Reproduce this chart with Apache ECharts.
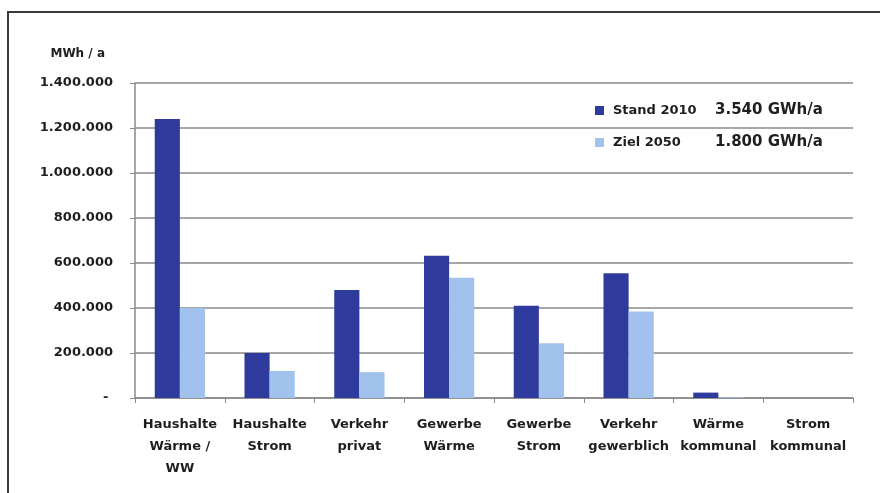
<!DOCTYPE html>
<html>
<head>
<meta charset="utf-8">
<script src="https://cdn.jsdelivr.net/npm/echarts@6/dist/echarts.min.js"></script>
<style>
  html, body { margin: 0; padding: 0; background: #fff; overflow: hidden; }
  #chart { position: absolute; left: 0; top: 0; width: 880px; height: 493px; }
</style>
</head>
<body>
<div id="chart"></div>
<script>
// Endenergieverbrauch nach Sektoren, MWh pro Jahr
const categories = [
  'Haushalte\nWärme /\nWW', 'Haushalte\nStrom', 'Verkehr\nprivat', 'Gewerbe\nWärme',
  'Gewerbe\nStrom', 'Verkehr\ngewerblich', 'Wärme\nkommunal', 'Strom\nkommunal'
];
const seriesNames = ['Stand 2010', 'Ziel 2050'];
const stand2010 = [1240000, 200000, 480000, 632000, 410000, 554000, 24000, 0];
const ziel2050 = [400000, 120000, 115000, 535000, 243000, 384000, 3000, 0];

const FONT = '"DejaVu Sans", "Open Sans", sans-serif';
const fmtDE = v => String(Math.round(v)).replace(/\B(?=(\d{3})+(?!\d))/g, '.');
const sum = arr => arr.reduce((a, b) => a + b, 0);
// Gesamtsumme in GWh/a für die Legende
const totals = [stand2010, ziel2050].map(a => fmtDE(sum(a) / 1000) + ' GWh/a');

const chart = echarts.init(document.getElementById('chart'), null, { renderer: 'canvas' });
chart.setOption({
  animation: false,
  textStyle: { fontFamily: FONT },
  // Rahmen oben und links
  graphic: [
    { type: 'line', shape: { x1: 7, y1: 12, x2: 880, y2: 12 }, style: { stroke: '#3a3a3a', lineWidth: 2 }, silent: true },
    { type: 'line', shape: { x1: 8, y1: 11, x2: 8, y2: 493 }, style: { stroke: '#3a3a3a', lineWidth: 2 }, silent: true }
  ],
  grid: { left: 135, right: 27, top: 83, bottom: 95, containLabel: false },
  legend: {
    orient: 'vertical',
    left: 590,
    top: 98,
    itemWidth: 9,
    itemHeight: 9,
    itemGap: 17,
    icon: 'rect',
    data: seriesNames,
    formatter: name => {
      const i = seriesNames.indexOf(name);
      return '{n|' + name + '}{v|' + totals[i] + '}';
    },
    textStyle: {
      rich: {
        n: { fontFamily: FONT, fontSize: 13, fontWeight: 'bold', color: '#1e1e1e', width: 102, padding: [0, 0, 0, 4] },
        v: { fontFamily: FONT, fontSize: 15, fontWeight: 'bold', color: '#1e1e1e' }
      }
    }
  },
  xAxis: {
    type: 'category',
    data: categories,
    axisLine: { lineStyle: { color: '#8a8a8a', width: 1.5 } },
    axisTick: { show: true, length: 5, lineStyle: { color: '#8a8a8a' } },
    axisLabel: {
      interval: 0,
      margin: 16,
      fontFamily: FONT,
      fontSize: 13,
      fontWeight: 'bold',
      color: '#1e1e1e',
      lineHeight: 22
    }
  },
  yAxis: {
    type: 'value',
    min: 0,
    max: 1400000,
    interval: 200000,
    name: 'MWh / a',
    nameLocation: 'end',
    nameGap: 23,
    nameTextStyle: {
      fontFamily: FONT, fontSize: 12, fontWeight: 'bold', color: '#1e1e1e',
      align: 'right', padding: [0, 30, 0, 0]
    },
    axisLine: { show: true, lineStyle: { color: '#8a8a8a', width: 1.5 } },
    axisTick: { show: true, length: 5, lineStyle: { color: '#8a8a8a' } },
    splitLine: { lineStyle: { color: '#8a8a8a', width: 1.5 } },
    axisLabel: {
      margin: 22,
      fontFamily: FONT,
      fontSize: 13,
      fontWeight: 'bold',
      color: '#1e1e1e',
      formatter: v => (v === 0 ? '- ' : fmtDE(v))
    }
  },
  series: [
    {
      name: seriesNames[0],
      type: 'bar',
      data: stand2010,
      barGap: '0%',
      barCategoryGap: '44%',
      itemStyle: { color: '#2e3b9c' }
    },
    {
      name: seriesNames[1],
      type: 'bar',
      data: ziel2050,
      barGap: '0%',
      barCategoryGap: '44%',
      itemStyle: { color: '#a0c2ec' }
    }
  ]
});
</script>
</body>
</html>
